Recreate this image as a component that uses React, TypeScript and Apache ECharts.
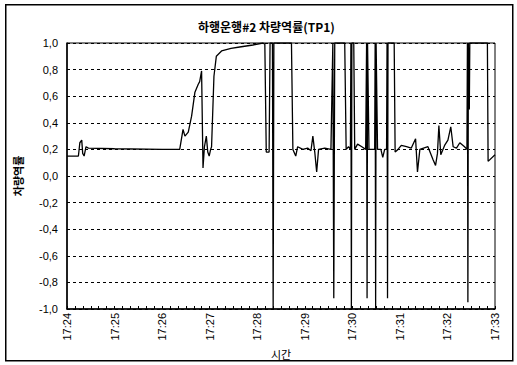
import React, { useEffect, useRef } from "react";
import * as echarts from "echarts";

const titleText = "하행운행#2 차량역률(TP1)";
const yAxisName = "차량역률";
const xAxisName = "시간";
const xTickLabels = ["17:24", "17:25", "17:26", "17:27", "17:28", "17:29", "17:30", "17:31", "17:32", "17:33"];
const yTickLabels = ["-1,0", "-0,8", "-0,6", "-0,4", "-0,2", "0,0", "0,2", "0,4", "0,6", "0,8", "1,0"];

// minutes after 17:24
const times = [
  0, 0.24, 0.27, 0.31, 0.33, 0.36, 0.4, 0.45, 1.0, 2.0, 2.37, 2.44, 2.48, 2.55, 2.62, 2.69, 2.76, 2.79, 2.83,
  2.86, 2.89, 2.93, 2.96, 2.99, 3.02, 3.04, 3.09, 3.14, 3.25, 3.45, 3.63, 3.91, 4.12, 4.16, 4.19, 4.25, 4.27,
  4.32, 4.335, 4.35, 4.72, 4.75, 4.81, 4.85, 4.96, 5.06, 5.13, 5.17, 5.21, 5.25, 5.29, 5.42, 5.55, 5.59, 5.61,
  5.63, 5.84, 5.87, 5.92, 5.96, 5.97, 5.98, 5.99, 6.03, 6.05, 6.11, 6.2, 6.28, 6.3, 6.31, 6.32, 6.35, 6.41,
  6.47, 6.48, 6.49, 6.5, 6.53, 6.6, 6.64, 6.68, 6.72, 6.73, 6.74, 6.75, 6.88, 6.9, 6.96, 7.03, 7.14, 7.24,
  7.33, 7.37, 7.42, 7.59, 7.7, 7.75, 7.79, 7.82, 7.86, 7.94, 8.01, 8.07, 8.12, 8.19, 8.26, 8.36, 8.41, 8.42,
  8.43, 8.44, 8.46, 8.47, 8.84, 8.855, 9.0,
];
const values = [
  0.15, 0.15, 0.25, 0.27, 0.17, 0.15, 0.22, 0.21, 0.205, 0.2, 0.2, 0.35, 0.3, 0.33, 0.45, 0.63, 0.69, 0.71, 0.79,
  0.06, 0.22, 0.3, 0.18, 0.15, 0.2, 0.22, 0.75, 0.9, 0.94, 0.96, 0.97, 0.985, 1.0, 0.99, 0.18, 0.18, 1.0,
  1.0, -1.0, 1.0, 1.0, 0.2, 0.15, 0.22, 0.2, 0.21, 0.19, 0.3, 0.18, 0.03, 0.2, 0.21, 0.2, 1.0, -0.92,
  1.0, 1.0, 0.2, 0.22, 0.2, 1.0, -1.0, 1.0, 1.0, 0.2, 0.24, 0.22, 0.2, 1.0, -0.92, 1.0, 0.2, 0.2,
  0.2, 1.0, -1.0, 1.0, 0.2, 0.2, 0.14, 0.2, 0.2, 1.0, -0.92, 1.0, 1.0, 0.18, 0.2, 0.23, 0.22, 0.21,
  0.28, 0.03, 0.2, 0.22, 0.12, 0.08, 0.17, 0.38, 0.16, 0.23, 0.27, 0.37, 0.22, 0.21, 0.25, 0.22, 0.2, 1.0,
  -0.95, 1.0, 0.5, 1.0, 1.0, 0.11, 0.16,
];

const FONT = '"Liberation Sans", Arial, "Noto Sans CJK KR", sans-serif';
const KFONT = '"Noto Sans CJK KR", sans-serif';

export default function App() {
  const ref = useRef<HTMLDivElement>(null);
  useEffect(() => {
    if (!ref.current) return;
    const chart = echarts.init(ref.current, null, { renderer: "svg" });
    const data = times.map((t, i) => [t, values[i]]);
    chart.setOption({
      animation: false,
      backgroundColor: "#fff",
      textStyle: { fontFamily: FONT, color: "#000" },
      title: {
        text: titleText,
        left: 193,
        top: 15,
        textStyle: { fontSize: 12, fontWeight: "bold", color: "#000", fontFamily: KFONT },
      },
      graphic: [
        {
          type: "rect",
          left: 5,
          top: 4,
          z: 100,
          shape: { width: 507, height: 356 },
          style: { fill: "transparent", stroke: "#000", lineWidth: 1.5 },
          silent: true,
        },
      ],
      grid: { left: 67, top: 43, right: 22, bottom: 56, show: true, borderColor: "#000", borderWidth: 1 },
      xAxis: {
        type: "value",
        min: 0,
        max: 9,
        interval: 1,
        name: xAxisName,
        nameLocation: "middle",
        nameGap: 36,
        nameTextStyle: { fontSize: 11, color: "#000", fontFamily: KFONT },
        axisLine: { show: true, onZero: false, lineStyle: { color: "#000", width: 1.5 } },
        axisTick: { show: true, inside: true, length: 3, lineStyle: { color: "#000" } },
        minorTick: { show: true, splitNumber: 6, length: 3, lineStyle: { color: "#000" } },
        splitLine: { show: false },
        axisLabel: {
          rotate: 90,
          fontSize: 11,
          color: "#000",
          margin: 4,
          formatter: (v: number) => xTickLabels[Math.round(v)] ?? "",
        },
      },
      yAxis: {
        type: "value",
        min: -1,
        max: 1,
        interval: 0.2,
        name: yAxisName,
        nameLocation: "middle",
        nameGap: 44,
        nameRotate: 90,
        nameTextStyle: { fontSize: 11, fontWeight: "bold", color: "#000", fontFamily: KFONT },
        axisLine: { show: true, lineStyle: { color: "#000", width: 1.5 } },
        axisTick: { show: true, inside: true, length: 3, lineStyle: { color: "#000" } },
        splitLine: { show: true, lineStyle: { color: "#000", width: 1, type: [3, 3] } },
        axisLabel: {
          fontSize: 11,
          color: "#000",
          margin: 9,
          formatter: (v: number) => yTickLabels[Math.round((v + 1) * 5)] ?? "",
        },
      },
      series: [
        {
          type: "line",
          data,
          showSymbol: false,
          symbol: "none",
          lineStyle: { color: "#000", width: 1.3 },
        },
      ],
    });
    return () => chart.dispose();
  }, []);
  return (
    <div
      ref={ref}
      style={{ position: "absolute", left: 0, top: 0, width: 517, height: 365 }}
    />
  );
}
